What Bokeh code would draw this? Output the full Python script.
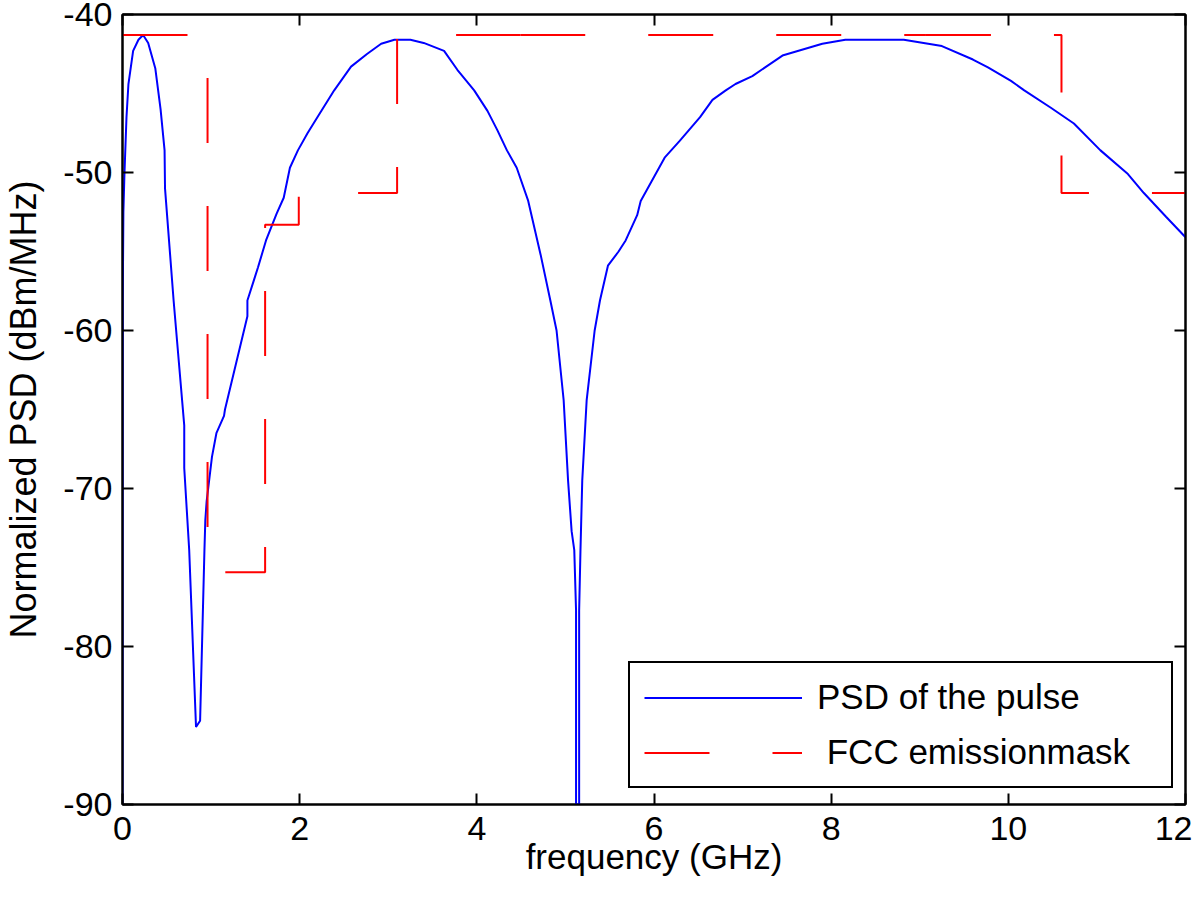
from bokeh.plotting import figure
from bokeh.models import Range1d, LinearAxis, FixedTicker, Legend, LegendItem
from bokeh.embed import file_html
from bokeh.resources import INLINE

# ---- data ----
psd_freq = [0.000, 0.003, 0.010, 0.022, 0.045, 0.067, 0.120, 0.180, 0.233, 0.290,
            0.370, 0.430, 0.475, 0.480, 0.577, 0.697, 0.697, 0.753, 0.830, 0.876,
            0.925, 0.935, 0.950, 1.010, 1.060, 1.146, 1.157, 1.410, 1.410, 1.530,
            1.620, 1.740, 1.820, 1.890, 1.980, 2.090, 2.200, 2.390, 2.580, 2.760,
            2.920, 3.070, 3.250, 3.400, 3.630, 3.780, 3.970, 4.120, 4.230, 4.340,
            4.450, 4.580, 4.720, 4.830, 4.900, 4.980, 5.030, 5.070, 5.100, 5.120,
            5.120, 5.155, 5.155, 5.170, 5.190, 5.240, 5.330, 5.390, 5.480, 5.600,
            5.680, 5.810, 5.850, 6.120, 6.290, 6.520, 6.660, 6.810, 6.920, 7.110,
            7.450, 7.900, 8.160, 8.820, 9.250, 9.600, 9.770, 10.030, 10.180, 10.480,
            10.740, 11.040, 11.350, 11.530, 11.780, 12.000]
psd_db = [-90.0, -58.0, -52.5, -50.1, -46.5, -44.4, -42.3, -41.6, -41.3, -41.8,
          -43.4, -46.0, -48.6, -51.0, -58.1, -66.0, -68.7, -73.9, -85.1, -84.7,
          -73.9, -72.0, -70.8, -68.0, -66.5, -65.4, -65.0, -59.1, -58.1, -56.0,
          -54.3, -52.6, -51.6, -49.7, -48.6, -47.5, -46.5, -44.8, -43.3, -42.5,
          -41.85, -41.6, -41.6, -41.8, -42.3, -43.5, -44.8, -46.1, -47.3, -48.6,
          -49.7, -51.8, -55.2, -58.1, -60.0, -64.4, -69.5, -72.7, -73.9, -77.7,
          -90.0, -90.0, -77.7, -73.9, -69.5, -64.4, -60.0, -58.1, -55.9, -55.0,
          -54.3, -52.7, -51.8, -49.06, -48.0, -46.5, -45.4, -44.8, -44.4, -43.9,
          -42.6, -41.85, -41.6, -41.6, -42.0, -42.85, -43.35, -44.2, -44.8, -45.9,
          -46.9, -48.6, -50.1, -51.3, -52.8, -54.1]

mask_freq = [0, 0.96, 0.96, 1.61, 1.61, 1.99, 1.99, 3.1, 3.1, 10.6, 10.6, 12]
mask_db = [-41.3, -41.3, -75.3, -75.3, -53.3, -53.3, -51.3, -51.3, -41.3, -41.3, -51.3, -51.3]
mask_breaks = [4.49, 9.07]   # where the dashed mask line was drawn as a new piece

x_ticks = [0, 2, 4, 6, 8, 10, 12]
y_ticks = [-90, -80, -70, -60, -50, -40]

series_labels = ["PSD of the pulse", " FCC emissionmask"]


def split_path(xs, ys, breaks):
    pieces = [([xs[0]], [ys[0]])]
    for i in range(1, len(xs)):
        x0, y0, x1, y1 = xs[i - 1], ys[i - 1], xs[i], ys[i]
        for b in breaks:
            if x0 < b < x1 and y0 == y1:
                pieces[-1][0].append(b)
                pieces[-1][1].append(y0)
                pieces.append(([b], [y0]))
        pieces[-1][0].append(x1)
        pieces[-1][1].append(y1)
    return [q[0] for q in pieces], [q[1] for q in pieces]


FONT = "Liberation Sans"
FS = "34px"

p = figure(width=1192, height=884,
           x_range=Range1d(0, 12), y_range=Range1d(-90, -40),
           output_backend="svg", toolbar_location=None,
           min_border_left=117, min_border_top=14, min_border_right=7, min_border_bottom=80,
           background_fill_color="white", border_fill_color="white")
p.grid.visible = False
p.outline_line_color = "black"
p.outline_line_width = 2

blue = p.line(psd_freq, psd_db, line_color="#0000ff", line_width=2)
mxs, mys = split_path(mask_freq, mask_db, mask_breaks)
red = p.multi_line(mxs, mys, line_color="#ff0000", line_width=2, line_dash="65 63")

p.add_layout(LinearAxis(), "right")
p.add_layout(LinearAxis(), "above")


def style_axis(ax, ticks, show_labels):
    ax.ticker = FixedTicker(ticks=ticks)
    ax.axis_line_color = "black"
    ax.axis_line_width = 2
    ax.major_tick_line_color = "black"
    ax.major_tick_line_width = 2
    ax.major_tick_in = 11
    ax.major_tick_out = 0
    ax.minor_tick_line_color = None
    ax.major_label_text_font = FONT
    ax.major_label_text_color = "black"
    if show_labels:
        ax.major_label_text_font_size = FS
        ax.major_label_standoff = 10
        ax.major_label_overrides = {t: str(t) for t in ticks}
    else:
        ax.major_label_text_font_size = "1px"
        ax.major_label_standoff = 0
        ax.major_label_overrides = {t: "" for t in ticks}


for ax in p.below:
    style_axis(ax, x_ticks, True)
    ax.major_label_standoff = 12
for ax in p.left:
    style_axis(ax, y_ticks, True)
for ax in p.above:
    style_axis(ax, x_ticks, False)
for ax in p.right:
    style_axis(ax, y_ticks, False)

xa = p.below[0]
ya = p.left[0]
xa.axis_label = "frequency (GHz)"
ya.axis_label = "Normalized PSD (dBm/MHz)"
for ax in (xa, ya):
    ax.axis_label_text_font = FONT
    ax.axis_label_text_font_style = "normal"
    ax.axis_label_text_color = "black"
xa.axis_label_text_font_size = "35px"
ya.axis_label_text_font_size = "36px"
xa.axis_label_standoff = -6
ya.axis_label_standoff = 16

legend = Legend(items=[LegendItem(label=series_labels[0], renderers=[blue]),
                       LegendItem(label=series_labels[1], renderers=[red])],
                location=(506, 16))
legend.label_text_font = FONT
legend.label_text_font_size = "35px"
legend.label_text_color = "black"
legend.border_line_color = "black"
legend.border_line_alpha = 1.0
legend.border_line_width = 2
legend.background_fill_color = "white"
legend.background_fill_alpha = 1.0
legend.padding = 14
legend.spacing = 15
legend.glyph_width = 158
legend.glyph_height = 39
legend.label_standoff = 15
legend.label_width = 340
legend.margin = 0
p.add_layout(legend)

open("out.html", "w").write(file_html(p, INLINE))
